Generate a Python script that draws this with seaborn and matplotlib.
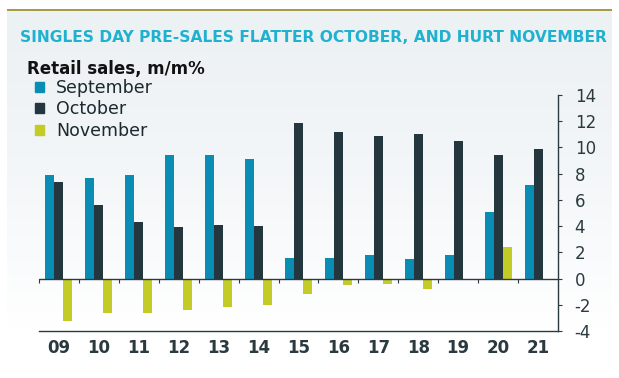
import numpy as np
import pandas as pd
import matplotlib
matplotlib.use("Agg")
import matplotlib.pyplot as plt
import seaborn as sns
from matplotlib.patches import Rectangle

years = ["09", "10", "11", "12", "13", "14", "15", "16", "17", "18", "19", "20", "21"]
september = [7.9, 7.7, 7.9, 9.4, 9.4, 9.1, 1.6, 1.6, 1.8, 1.5, 1.8, 5.1, 7.1]
october = [7.4, 5.6, 4.3, 3.9, 4.1, 4.0, 11.9, 11.2, 10.9, 11.0, 10.5, 9.4, 9.9]
november = [-3.2, -2.6, -2.6, -2.4, -2.2, -2.0, -1.2, -0.5, -0.4, -0.8, np.nan, 2.4, np.nan]
series_names = ["September", "October", "November"]
colors = ["#0a8db4", "#25373e", "#c3cc26"]
y_ticks = [-4, -2, 0, 2, 4, 6, 8, 10, 12, 14]
title = "SINGLES DAY PRE-SALES FLATTER OCTOBER, AND HURT NOVEMBER"
subtitle = "Retail sales, m/m%"

df = pd.DataFrame({
    "year": years * 3,
    "month": [s for s in series_names for _ in years],
    "value": september + october + november,
})

sns.set_theme(style="white")
plt.rcParams["font.family"] = ["DejaVu Sans"]

W, H = 619, 378
fig = plt.figure(figsize=(W / 100, H / 100), dpi=100)
fig.patch.set_facecolor("white")

# background panel with vertical gradient
bg = fig.add_axes([0, 0, 1, 1], zorder=-10)
bg.set_xlim(0, W)
bg.set_ylim(H, 0)
bg.axis("off")
grad = np.linspace(0, 1, 256)[:, None]
top = np.array([236, 241, 244]) / 255
bot = np.array([255, 255, 255]) / 255
t = np.clip(grad, 0, 1) ** 1.3
img = top[None, None, :] * (1 - t[..., None]) + bot[None, None, :] * t[..., None]
img = np.repeat(img, 2, axis=1)
bg.imshow(img, extent=[7, 612, 330, 11], aspect="auto", interpolation="bilinear")
bg.add_patch(Rectangle((7, 8.5), 605, 2, color="#a89b45", lw=0))

ax = fig.add_axes([39 / W, 1 - 331 / H, (558 - 39) / W, (331 - 95) / H])
ax.set_facecolor("none")

sns.barplot(data=df, x="year", y="value", hue="month", hue_order=series_names,
            palette=colors, saturation=1, width=0.675, linewidth=0, ax=ax,
            order=years, errorbar=None)
ax.get_legend().remove()

ax.set_xlim(-0.5, len(years) - 0.5)
ax.set_ylim(-4, 14)
ax.set_xlabel("")
ax.set_ylabel("")

for s in ["top", "left"]:
    ax.spines[s].set_visible(False)
ax.spines["right"].set_color("#2b3a40")
ax.spines["right"].set_linewidth(1.0)
ax.spines["bottom"].set_color("#2b3a40")
ax.spines["bottom"].set_linewidth(1.0)

ax.yaxis.tick_right()
ax.set_yticks(y_ticks)
ax.set_yticklabels([str(v) for v in y_ticks])
ax.tick_params(axis="y", which="major", direction="out", length=3, width=0.8,
               color="#2b3a40", pad=9, labelsize=12, labelcolor="#2b3a40",
               left=False, right=True)
ax.tick_params(axis="x", length=0, pad=6, labelsize=12, labelcolor="#2b3a40")
for lab in ax.get_xticklabels():
    lab.set_fontweight("bold")

# zero line with category boundary ticks
ax.axhline(0, color="#2b3a40", lw=1.0, zorder=5)
sec = ax.secondary_xaxis(4 / 18)
sec.set_xticks(np.arange(-0.5, len(years) - 0.5, 1.0))
sec.set_xticklabels([])
sec.tick_params(direction="out", length=3, width=0.8, color="#2b3a40")
sec.spines["bottom"].set_visible(False)

fig.text(20 / W, 1 - 37 / H, title, color="#20b1d0", fontsize=11.15, fontweight="bold",
         va="center", ha="left")
fig.text(27 / W, 1 - 69 / H, subtitle, color="#111111", fontsize=12, fontweight="bold",
         va="center", ha="left")

handles = [Rectangle((0, 0), 1, 1, color=c) for c in colors]
fig.legend(handles, series_names, loc="upper left", bbox_to_anchor=(35 / W, 1 - 79 / H),
           frameon=False, fontsize=12.5, handlelength=0.5, handleheight=0.5,
           handletextpad=0.7, labelspacing=0.2, borderaxespad=0, borderpad=0,
           labelcolor="#1c2a30")

fig.savefig("out.png", dpi=100)
